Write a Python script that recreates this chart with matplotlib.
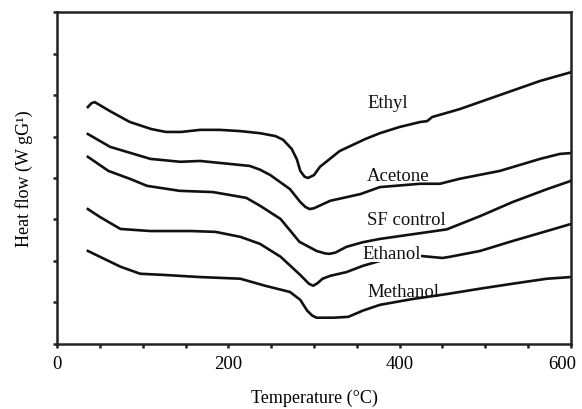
import numpy as np
import matplotlib.pyplot as plt
import matplotlib.transforms as mtransforms
from matplotlib.ticker import MultipleLocator

# DSC curves (temperature in C, heat flow in arbitrary units)
ethyl_t = [36, 40, 44, 62, 85, 110, 127, 145, 167, 190, 214, 237, 255, 264, 274, 280,
           284, 289, 293, 300, 307, 330, 360, 377, 400, 424, 432, 438, 470, 517, 564, 600]
ethyl_q = [5.71, 5.80, 5.83, 5.61, 5.35, 5.18, 5.11, 5.11, 5.16, 5.16, 5.13, 5.08, 5.01,
           4.92, 4.70, 4.45, 4.17, 4.03, 4.00, 4.07, 4.27, 4.65, 4.94, 5.08, 5.23, 5.35,
           5.37, 5.47, 5.66, 6.00, 6.34, 6.55]

acetone_t = [36, 62, 109, 144, 167, 201, 225, 237, 249, 272, 284, 290, 295, 300, 319,
             354, 377, 424, 447, 470, 517, 564, 587, 600]
acetone_q = [5.06, 4.75, 4.46, 4.39, 4.41, 4.34, 4.29, 4.20, 4.07, 3.73, 3.42, 3.30,
             3.25, 3.27, 3.45, 3.61, 3.78, 3.86, 3.86, 3.98, 4.17, 4.46, 4.58, 4.60]

sf_t = [36, 60, 85, 105, 143, 182, 221, 237, 261, 283, 303, 313, 318, 325, 338, 357,
        377, 455, 494, 532, 572, 600]
sf_q = [4.51, 4.17, 3.98, 3.81, 3.69, 3.66, 3.52, 3.33, 3.01, 2.46, 2.24, 2.18, 2.17,
        2.20, 2.34, 2.45, 2.53, 2.76, 3.08, 3.42, 3.73, 3.93]

ethanol_t = [36, 50, 74, 109, 156, 185, 214, 237, 261, 284, 294, 299, 304, 310, 319,
             338, 357, 377, 424, 450, 459, 494, 532, 572, 600]
ethanol_q = [3.25, 3.06, 2.77, 2.72, 2.72, 2.70, 2.58, 2.41, 2.10, 1.66, 1.45, 1.40,
             1.46, 1.57, 1.64, 1.73, 1.88, 2.00, 2.12, 2.07, 2.10, 2.24, 2.48, 2.72, 2.89]

methanol_t = [36, 50, 74, 97, 126, 167, 214, 243, 272, 284, 292, 298, 303, 323, 340,
              357, 377, 415, 455, 494, 532, 572, 600]
methanol_q = [2.24, 2.10, 1.86, 1.69, 1.66, 1.61, 1.57, 1.40, 1.25, 1.06, 0.80, 0.68,
              0.63, 0.63, 0.65, 0.80, 0.94, 1.08, 1.20, 1.33, 1.45, 1.57, 1.61]

labels = ["Ethyl", "Acetone", "SF control", "Ethanol", "Methanol"]
label_x = [363, 362, 362, 357, 362]
label_y = [5.81, 4.05, 3.01, 2.19, 1.25]
label_boxed = [False, False, True, True, False]

plt.rcParams['font.family'] = ['Liberation Serif', 'DejaVu Serif']

fig = plt.figure(figsize=(5.82, 4.10), dpi=100)
ax = fig.add_axes([0.098, 0.159, 0.883, 0.809])

series = [(ethyl_t, ethyl_q, 2), (acetone_t, acetone_q, 2), (sf_t, sf_q, 3.5),
          (ethanol_t, ethanol_q, 2), (methanol_t, methanol_q, 2)]
for t, q, z in series:
    ax.plot(t, q, color='#111111', lw=1.9, solid_joinstyle='round', zorder=z)

for name, x, y, boxed in zip(labels, label_x, label_y, label_boxed):
    txt = ax.text(x, y, name, fontsize=13.5, ha='left', va='center', color='#111111',
                  zorder=4 if name == "SF control" else 3)
    if boxed:
        txt.set_bbox(dict(facecolor='white', edgecolor='none', pad=0))

ax.set_xlim(0, 600)
ax.set_ylim(0, 8)
ax.set_xticks([0, 200, 400, 600])
ax.xaxis.set_minor_locator(MultipleLocator(50))
ax.set_yticks(np.arange(0, 9, 1))
ax.set_yticklabels([])
ax.tick_params(axis='both', which='both', direction='out', length=3, width=1.8,
               color='#222222', labelsize=13.5, pad=5)
for s in ax.spines.values():
    s.set_linewidth(1.8)
    s.set_color('#222222')

# the last tick label sits a little left of its tick in the original
last = ax.get_xticklabels()[-1]
last.set_transform(last.get_transform() +
                   mtransforms.ScaledTranslation(-6 / 72, 0, fig.dpi_scale_trans))

ax.set_xlabel("Temperature (°C)", fontsize=13, labelpad=12)
ax.set_ylabel("Heat flow (W gG¹)", fontsize=13, labelpad=9)

fig.savefig("out.png", dpi=100)
